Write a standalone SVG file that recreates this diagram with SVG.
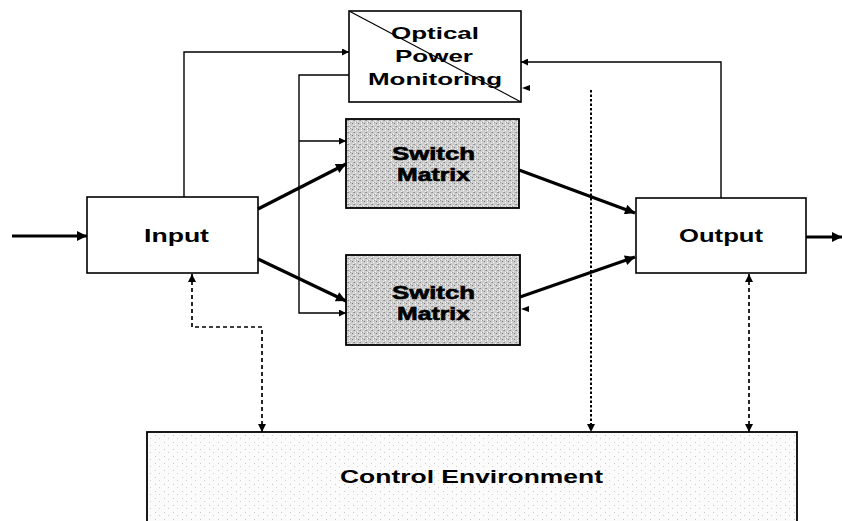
<svg xmlns="http://www.w3.org/2000/svg" width="842" height="521" viewBox="0 0 842 521">
<style>
.box{fill:#ffffff;stroke:#000;stroke-width:1.6}
.sm{fill:url(#speck);stroke:#000;stroke-width:1.8}
.ctl{fill:url(#light);stroke:#000;stroke-width:1.8}
.lbl{font-family:"Liberation Sans",Arial,sans-serif;font-weight:bold;fill:#000;text-anchor:start}
.thin{fill:none;stroke:#000;stroke-width:1.4}
.thick{fill:none;stroke:#000;stroke-width:3.2}
.dash{fill:none;stroke:#000;stroke-width:1.7;stroke-dasharray:4 3}
.dot{fill:none;stroke:#000;stroke-width:2;stroke-dasharray:2.5 2}
</style>
<defs>
<pattern id="speck" width="6" height="6" patternUnits="userSpaceOnUse">
<rect width="6" height="6" fill="#cdcdcd"/>
<rect x="0" y="0" width="1" height="1" fill="#8a8a8a"/>
<rect x="3" y="1" width="1" height="1" fill="#f2f2f2"/>
<rect x="4" y="3" width="1" height="1" fill="#7a7a7a"/>
<rect x="1" y="4" width="1" height="1" fill="#ffffff"/>
<rect x="2" y="2" width="1" height="1" fill="#9a9a9a"/>
<rect x="5" y="5" width="1" height="1" fill="#eeeeee"/>
<rect x="1" y="2" width="1" height="1" fill="#ffffff"/>
<rect x="5" y="0" width="1" height="1" fill="#a0a0a0"/>
</pattern>
<pattern id="light" width="9" height="7" patternUnits="userSpaceOnUse">
<rect width="9" height="7" fill="#fbfbfb"/>
<rect x="2" y="1" width="1" height="1" fill="#c8c8c8"/>
<rect x="6" y="4" width="1" height="1" fill="#d0d0d0"/>
</pattern>
<marker id="ah" viewBox="0 0 10 10" refX="10" refY="5" markerWidth="10" markerHeight="7" markerUnits="userSpaceOnUse" orient="auto-start-reverse">
<path d="M0,0 L10,5 L0,10 Z" fill="#000"/>
</marker>
<marker id="ahb" viewBox="0 0 10 10" refX="10" refY="5" markerWidth="14" markerHeight="10" markerUnits="userSpaceOnUse" orient="auto">
<path d="M0,0 L10,5 L0,10 Z" fill="#000"/>
</marker>
<marker id="ahd" viewBox="0 0 10 10" refX="10" refY="5" markerWidth="10" markerHeight="8" markerUnits="userSpaceOnUse" orient="auto-start-reverse">
<path d="M0,0 L10,5 L0,10 Z" fill="#000"/>
</marker>
</defs>

<g id="control">
<rect class="ctl" x="147" y="432" width="650" height="95"/>
<text class="lbl" x="340" y="483" font-size="19" textLength="263" lengthAdjust="spacingAndGlyphs">Control Environment</text>
</g>

<g id="opm">
<rect class="box" x="349" y="11" width="172" height="91"/>
<line x1="349" y1="11" x2="521" y2="102" stroke="#000" stroke-width="1.2"/>
<text class="lbl" x="391" y="39" font-size="17" textLength="88" lengthAdjust="spacingAndGlyphs">Optical</text>
<text class="lbl" x="395" y="62" font-size="17" textLength="78" lengthAdjust="spacingAndGlyphs">Power</text>
<text class="lbl" x="368" y="85" font-size="17" textLength="134" lengthAdjust="spacingAndGlyphs">Monitoring</text>
</g>

<g id="sm1">
<rect class="sm" x="346" y="119" width="173" height="89"/>
<text class="lbl" x="392" y="160" font-size="18" stroke="#000" stroke-width="0.6" textLength="83" lengthAdjust="spacingAndGlyphs">Switch</text>
<text class="lbl" x="397" y="181" font-size="18" stroke="#000" stroke-width="0.6" textLength="73" lengthAdjust="spacingAndGlyphs">Matrix</text>
</g>

<g id="sm2">
<rect class="sm" x="346" y="255" width="174" height="90"/>
<text class="lbl" x="392" y="299" font-size="18" stroke="#000" stroke-width="0.6" textLength="83" lengthAdjust="spacingAndGlyphs">Switch</text>
<text class="lbl" x="397" y="320" font-size="18" stroke="#000" stroke-width="0.6" textLength="73" lengthAdjust="spacingAndGlyphs">Matrix</text>
</g>

<g id="input">
<rect class="box" x="87" y="197" width="171" height="76"/>
<text class="lbl" x="144" y="242" font-size="19" textLength="65" lengthAdjust="spacingAndGlyphs">Input</text>
</g>

<g id="output">
<rect class="box" x="636" y="198" width="170" height="75"/>
<text class="lbl" x="679" y="242" font-size="19" textLength="84" lengthAdjust="spacingAndGlyphs">Output</text>
</g>

<g id="connectors">
<line class="thick" x1="12" y1="236" x2="87" y2="236" marker-end="url(#ahb)"/>
<line class="thick" x1="806" y1="237" x2="842" y2="237" marker-end="url(#ahb)"/>
<line class="thick" x1="258" y1="209" x2="346" y2="164" marker-end="url(#ahb)"/>
<line class="thick" x1="258" y1="259" x2="346" y2="301" marker-end="url(#ahb)"/>
<line class="thick" x1="519" y1="170" x2="635" y2="213" marker-end="url(#ahb)"/>
<line class="thick" x1="520" y1="297" x2="635" y2="257" marker-end="url(#ahb)"/>

<polyline class="thin" points="184,197 184,52 349,52" marker-end="url(#ah)"/>
<polyline class="thin" points="349,75 299,75 299,313 346,313" marker-end="url(#ah)"/>
<line class="thin" x1="299" y1="141" x2="346" y2="141" marker-end="url(#ah)"/>
<polyline class="thin" points="721,198 721,62 521,62" marker-end="url(#ah)"/>
<path d="M522,88 L530,85 L530,91 Z" fill="#000"/>
<path d="M521,309 L529,306 L529,312 Z" fill="#000"/>

<polyline class="dash" points="192,274 192,327 262,327 262,432" marker-start="url(#ahd)" marker-end="url(#ahd)"/>
<line class="dot" x1="591" y1="90" x2="591" y2="432" marker-end="url(#ahd)"/>
<line class="dash" x1="749" y1="274" x2="749" y2="432" marker-start="url(#ahd)" marker-end="url(#ahd)"/>
</g>
</svg>
